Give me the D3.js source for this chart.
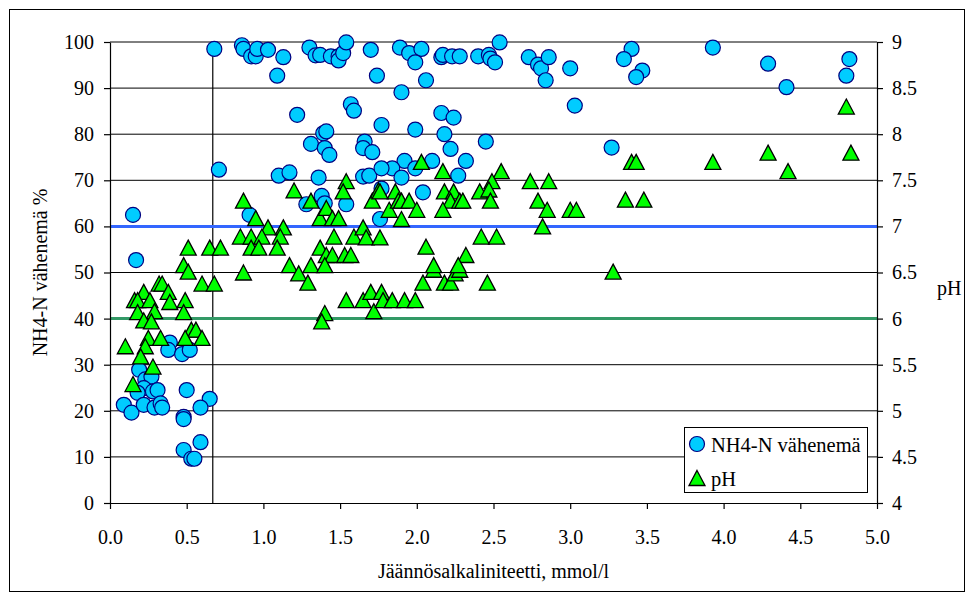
<!DOCTYPE html>
<html><head><meta charset="utf-8">
<script src="https://cdn.jsdelivr.net/npm/d3@7"></script>
<style>
body{margin:0;background:#fff}svg{display:block}
svg text{font-family:"Liberation Serif","Times New Roman","DejaVu Serif",serif !important;}
</style>
</head><body>
<script>
// ---- data ----
const nh4X = [0.68,0.86,0.87,0.92,0.95,0.96,1.03,1.13,1.09,1.30,1.34,1.37,1.44,1.49,1.49,1.52,1.54,1.70,1.74,1.22,1.57,1.59,1.39,1.41,1.31,1.40,1.43,1.66,1.65,1.71,0.71,1.10,1.17,1.36,1.65,1.69,1.38,1.28,1.54,0.15,0.91,0.17,0.39,0.38,0.47,0.52,0.19,0.23,0.27,0.22,0.18,0.28,0.31,0.09,0.14,0.22,0.29,0.33,0.34,0.50,0.65,0.59,0.48,0.48,0.59,0.48,0.53,0.55,1.89,1.95,2.03,1.99,2.06,2.16,2.17,2.23,2.28,2.40,2.47,2.48,2.51,2.54,2.73,2.79,2.81,2.86,2.84,3.00,3.03,1.90,2.16,2.24,1.77,1.99,2.18,2.45,2.22,3.27,2.32,2.10,1.92,1.84,1.77,1.99,1.90,2.27,1.77,2.04,1.76,1.40,3.40,3.35,3.47,3.43,3.93,4.29,4.41,4.82,4.80];
const nh4Y = [98.5,99.3,98.5,96.9,96.9,98.5,98.3,96.7,92.7,98.8,97.1,97.2,96.9,96.9,96.0,97.6,99.9,98.3,92.7,84.2,86.5,85.1,80.2,80.6,77.9,77.0,75.5,78.4,77.0,76.1,72.3,71.0,71.7,70.6,70.8,71.0,66.6,64.8,64.8,62.5,62.5,52.7,34.8,33.2,32.3,33.2,28.9,26.8,27.4,24.9,23.9,24.2,24.5,21.3,19.6,21.3,20.7,21.6,20.7,24.5,22.6,20.7,18.7,18.2,13.2,11.5,9.6,9.6,98.8,97.6,98.5,95.6,91.7,96.7,97.2,96.9,96.9,96.9,97.2,96.4,95.6,99.9,96.7,95.1,94.3,96.7,91.7,94.3,86.2,89.1,84.6,83.6,82.0,81.0,80.0,78.4,76.8,77.1,74.2,74.2,74.2,72.6,72.6,72.6,70.6,71.0,68.2,67.4,61.6,65.0,98.5,96.3,93.8,92.4,98.8,95.3,90.2,96.3,92.7];
const phX = [1.54,1.52,1.20,0.87,1.31,0.95,1.03,1.13,1.37,1.41,1.45,1.49,0.85,0.92,0.99,1.11,1.46,1.59,0.92,0.97,1.09,1.37,1.41,1.45,1.53,1.57,0.51,0.65,0.72,0.48,0.51,0.87,1.17,1.23,1.31,1.40,1.29,0.60,0.68,1.71,1.75,1.86,1.82,1.88,1.65,1.67,1.76,1.54,1.65,1.70,1.72,1.77,1.78,1.84,1.40,1.38,0.32,0.34,0.38,0.39,0.49,0.48,0.22,0.16,0.18,0.26,0.18,0.29,0.22,0.27,0.53,0.56,0.49,0.60,0.25,0.33,0.10,0.23,0.20,0.28,0.15,1.92,1.99,2.04,2.18,2.22,2.25,2.11,2.28,2.46,3.28,2.03,2.17,2.55,2.49,2.74,2.86,1.76,2.18,2.24,2.41,2.47,1.90,1.95,2.22,2.28,2.30,2.48,2.79,2.00,2.17,2.85,3.00,3.04,1.90,2.82,2.42,2.52,2.06,2.32,2.11,2.27,3.40,3.43,3.36,3.48,3.93,4.29,4.42,4.80,4.83];
const phY = [7.49,7.38,7.39,7.28,7.28,7.09,6.99,6.99,7.09,7.20,7.09,7.09,6.89,6.89,6.89,6.89,6.89,6.89,6.77,6.77,6.77,6.77,6.69,6.69,6.69,6.69,6.77,6.77,6.77,6.58,6.51,6.50,6.58,6.49,6.58,6.58,6.39,6.38,6.38,7.28,7.39,7.38,7.18,7.28,6.99,6.88,6.88,6.20,6.20,6.29,6.08,6.29,6.20,6.20,6.06,5.97,6.38,6.38,6.29,6.18,6.20,6.07,6.29,6.20,6.20,6.20,6.07,6.08,5.98,5.97,5.88,5.88,5.79,5.79,5.79,5.79,5.70,5.70,5.59,5.48,5.29,6.20,6.20,6.39,6.39,6.39,6.49,6.53,6.53,6.39,6.51,7.70,7.60,7.60,7.49,7.49,7.49,7.38,7.38,7.38,7.38,7.40,7.28,7.28,7.28,7.28,7.28,7.28,7.28,7.18,7.18,7.18,7.18,7.18,7.08,7.00,6.89,6.89,6.78,6.69,6.58,6.58,7.70,7.70,7.29,7.29,7.70,7.80,7.60,8.30,7.80];
const xTicks = [0,0.5,1,1.5,2,2.5,3,3.5,4,4.5,5];
const yLTicks = [0,10,20,30,40,50,60,70,80,90,100];
const yRTicks = [4,4.5,5,5.5,6,6.5,7,7.5,8,8.5,9];
const refLines = [{ph:7,color:"#3366FF"},{ph:6,color:"#339966"}];
const vLine = 0.67;
const seriesNames = ["NH4-N vähenemä","pH"];
const xTitle = "Jäännösalkaliniteetti, mmol/l";
const yLTitle = "NH4-N vähenemä %";
const yRTitle = "pH";

// ---- chart ----
const W=973,H=599;
const svg=d3.select("body").append("svg").attr("width",W).attr("height",H);
svg.append("rect").attr("x",9.5).attr("y",9.5).attr("width",955).attr("height",582)
  .attr("fill","#fff").attr("stroke","#000").attr("stroke-width",1);

const x=d3.scaleLinear().domain([0,5]).range([110,877]);
const yL=d3.scaleLinear().domain([0,100]).range([503,42]);
const yR=d3.scaleLinear().domain([4,9]).range([503,42]);

// gridlines
svg.append("g").selectAll("line").data(yLTicks.filter(d=>d>0)).join("line")
  .attr("x1",x(0)).attr("x2",x(5)).attr("y1",d=>yL(d)).attr("y2",d=>yL(d))
  .attr("stroke","#000").attr("stroke-width",1);

// vertical line
svg.append("line").attr("x1",x(vLine)).attr("x2",x(vLine)).attr("y1",yL(0)).attr("y2",yL(100))
  .attr("stroke","#000").attr("stroke-width",1.2);

// reference lines
svg.append("g").selectAll("line").data(refLines).join("line")
  .attr("x1",x(0)).attr("x2",x(5)).attr("y1",d=>yR(d.ph)).attr("y2",d=>yR(d.ph))
  .attr("stroke",d=>d.color).attr("stroke-width",3);

// axes
function styleAxis(g){
  g.attr("font-family",null).attr("font-size",null);
  g.selectAll("path").attr("stroke","#000").attr("stroke-width",1.2);
  g.selectAll("line").attr("stroke","#000").attr("stroke-width",1.2);
  g.selectAll("text").style("font-size","20px").attr("fill","#000");
}
svg.append("g").attr("transform",`translate(0,${yL(0)})`)
  .call(d3.axisBottom(x).tickValues(xTicks).tickFormat(d3.format(".1f")).tickSize(6).tickSizeOuter(0).tickPadding(21))
  .call(styleAxis);
svg.append("g").attr("transform",`translate(${x(0)},0)`)
  .call(d3.axisLeft(yL).tickValues(yLTicks).tickFormat(d3.format("d")).tickSize(6).tickSizeOuter(0).tickPadding(10))
  .call(styleAxis);
svg.append("g").attr("transform",`translate(${x(5)},0)`)
  .call(d3.axisRight(yR).tickValues(yRTicks).tickFormat(d=>String(d)).tickSize(6).tickSizeOuter(0).tickPadding(9))
  .call(styleAxis);

// titles
svg.append("text").attr("x",(x(0)+x(5))/2).attr("y",578).attr("text-anchor","middle")
  .style("font-size","20px").text(xTitle);
svg.append("text").attr("transform",`translate(47,${(yL(0)+yL(100))/2}) rotate(-90)`).attr("text-anchor","middle")
  .style("font-size","20px").text(yLTitle);
svg.append("text").attr("x",937).attr("y",295)
  .style("font-size","20px").text(yRTitle);

// markers
const nh4 = nh4X.map((v,i)=>({x:v,y:nh4Y[i]}));
const ph = phX.map((v,i)=>({x:v,y:phY[i]}));
const tri = "M0,-7.5L8,7.5L-8,7.5Z";
svg.append("g").selectAll("circle").data(nh4).join("circle")
  .attr("cx",d=>x(d.x)).attr("cy",d=>yL(d.y)).attr("r",7.5)
  .attr("fill","#00CCFF").attr("stroke","#000080").attr("stroke-width",1.2);
svg.append("g").selectAll("path").data(ph).join("path")
  .attr("transform",d=>`translate(${x(d.x)},${yR(d.y)})`).attr("d",tri)
  .attr("fill","#00FF00").attr("stroke","#000").attr("stroke-width",1.3);

// legend
const lg=svg.append("g");
lg.append("rect").attr("x",684.5).attr("y",427.5).attr("width",183).attr("height",65)
  .attr("fill","#fff").attr("stroke","#000").attr("stroke-width",1);
lg.append("circle").attr("cx",697).attr("cy",444).attr("r",7.5)
  .attr("fill","#00CCFF").attr("stroke","#000080").attr("stroke-width",1.2);
lg.append("path").attr("transform","translate(697,478)").attr("d",tri)
  .attr("fill","#00FF00").attr("stroke","#000").attr("stroke-width",1.3);
lg.selectAll("text").data(seriesNames).join("text")
  .attr("x",711).attr("y",(d,i)=>452+i*34)
  .style("font-size","20.5px").text(d=>d);
</script>
</body></html>
